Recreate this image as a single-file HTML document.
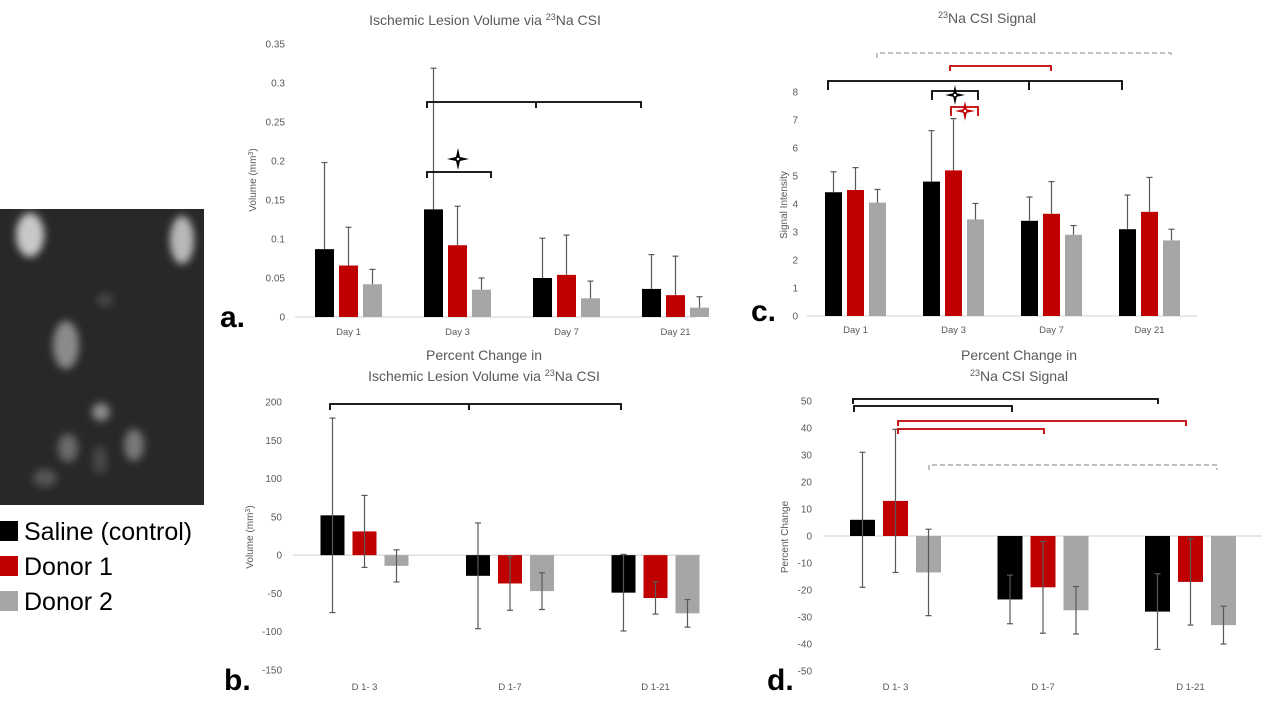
<!DOCTYPE html>
<html><head><meta charset="utf-8"><style>
html,body{margin:0;padding:0;background:#fff;}
svg{display:block;font-family:"Liberation Sans",sans-serif;}
</style></head><body>
<svg id="s" width="1278" height="714" viewBox="0 0 1278 714">
<defs><filter id="bl" x="-50%" y="-50%" width="200%" height="200%"><feGaussianBlur stdDeviation="4"/></filter>
<clipPath id="imgclip"><rect x="0" y="209" width="204" height="296"/></clipPath></defs>
<g clip-path="url(#imgclip)">
<rect x="0" y="209" width="204" height="296" fill="#282828"/>
<g filter="url(#bl)">
<ellipse cx="30" cy="235" rx="14" ry="22" fill="#c8c8c8"/>
<ellipse cx="182" cy="240" rx="12" ry="24" fill="#b8b8b8"/>
<ellipse cx="66" cy="345" rx="13" ry="24" fill="#8a8a8a"/>
<ellipse cx="101" cy="412" rx="9" ry="9" fill="#8a8a8a"/>
<ellipse cx="68" cy="448" rx="10" ry="14" fill="#6a6a6a"/>
<ellipse cx="134" cy="445" rx="10" ry="16" fill="#777"/>
<ellipse cx="45" cy="478" rx="12" ry="9" fill="#555"/>
<ellipse cx="105" cy="300" rx="8" ry="6" fill="#4a4a4a"/>
<ellipse cx="100" cy="460" rx="7" ry="14" fill="#484848"/>
</g>
</g>
<g>
<rect x="0" y="521" width="18" height="20" fill="#000"/>
<text x="24" y="540" font-size="25" fill="#000">Saline (control)</text>
<rect x="0" y="556" width="18" height="20" fill="#c00000"/>
<text x="24" y="575" font-size="25" fill="#000">Donor 1</text>
<rect x="0" y="591" width="18" height="20" fill="#a6a6a6"/>
<text x="24" y="610" font-size="25" fill="#000">Donor 2</text>
</g>
<g font-weight="bold" font-size="30" fill="#000">
<text x="220" y="327">a.</text>
<text x="224" y="690">b.</text>
<text x="751" y="321">c.</text>
<text x="767" y="690">d.</text>
</g>
</svg>
<script>
// ---- data ----
const catsA = ["Day 1","Day 3","Day 7","Day 21"];
const salineA = [0.087,0.138,0.050,0.036];
const donor1A = [0.066,0.092,0.054,0.028];
const donor2A = [0.042,0.035,0.024,0.012];
const salineAErr = [0.111,0.181,0.051,0.044];
const donor1AErr = [0.049,0.050,0.051,0.050];
const donor2AErr = [0.019,0.015,0.022,0.014];
const ticksA = ["0","0.05","0.1","0.15","0.2","0.25","0.3","0.35"];

const catsC = ["Day 1","Day 3","Day 7","Day 21"];
const salineC = [4.42,4.80,3.40,3.10];
const donor1C = [4.50,5.20,3.65,3.72];
const donor2C = [4.05,3.45,2.90,2.70];
const salineCErr = [0.73,1.82,0.85,1.22];
const donor1CErr = [0.80,1.85,1.15,1.23];
const donor2CErr = [0.47,0.57,0.33,0.40];
const ticksC = ["0","1","2","3","4","5","6","7","8"];

const catsB = ["D 1- 3","D 1-7","D 1-21"];
const salineB = [52,-27,-49];
const donor1B = [31,-37,-56];
const donor2B = [-14,-47,-76];
const salineBErr = [127,69,50];
const donor1BErr = [47,35,21];
const donor2BErr = [21,24,18];
const ticksB = ["-150","-100","-50","0","50","100","150","200"];

const catsD = ["D 1- 3","D 1-7","D 1-21"];
const salineD = [6,-23.5,-28];
const donor1D = [13,-19,-17];
const donor2D = [-13.5,-27.5,-33];
const salineDErr = [25,9,14];
const donor1DErr = [26.5,17,16];
const donor2DErr = [16,8.8,7];
const ticksD = ["-50","-40","-30","-20","-10","0","10","20","30","40","50"];

const NS="http://www.w3.org/2000/svg";
const svg=document.getElementById('s');
function el(tag,attrs,parent){const e=document.createElementNS(NS,tag);for(const k in attrs)e.setAttribute(k,attrs[k]);(parent||svg).appendChild(e);return e;}

function chart(cfg){
  const g=el('g',{});
  
  
  const y=v=>cfg.y0-(v-cfg.vmin)*(cfg.y0-cfg.y1)/(cfg.vmax-cfg.vmin);
  const x=i=>cfg.x0+i*cfg.step;
  cfg.ticks.forEach(t=>{
    const tx=el('text',{x:cfg.tickX,y:y(parseFloat(t))+3.5,'font-size':10,fill:'#595959','text-anchor':'end'},g);
    tx.textContent=t;
    
    
  });
  const ax=el('line',{x1:cfg.axL,x2:cfg.axR,y1:y(0),y2:y(0),stroke:'#d9d9d9','stroke-width':1.2},g);
  
  
  const series=[[cfg.s0,cfg.e0,'#000000'],[cfg.s1,cfg.e1,'#c00000'],[cfg.s2,cfg.e2,'#a6a6a6']];
  const names=['saline','donor1','donor2'];
  cfg.cats.forEach((c,i)=>{
    series.forEach((s,j)=>{
      const cx=x(i)+(j-1)*cfg.off;
      const v=s[0][i], yv=y(v), yz=y(0);
      const r=el('rect',{x:cx-cfg.bw/2,y:Math.min(yv,yz),width:cfg.bw,height:Math.abs(yz-yv),fill:s[2]},g);
      
      
      const e=s[1][i];
      const top=y(v+e), bot=cfg.sym?y(v-e):yv;
      const eg=el('g',{stroke:'#595959','stroke-width':1.2},g);
      
      
      el('line',{x1:cx,x2:cx,y1:top,y2:bot},eg);
      el('line',{x1:cx-3,x2:cx+3,y1:top,y2:top},eg);
      if(cfg.sym) el('line',{x1:cx-3,x2:cx+3,y1:bot,y2:bot},eg);
    });
    const lt=el('text',{x:x(i),y:cfg.catY,'font-size':9.5,fill:'#595959','text-anchor':'middle'},g);
    lt.textContent=c;
    
    
  });
  const yl=el('text',{x:0,y:0,'font-size':10,fill:'#595959','text-anchor':'middle',transform:`translate(${cfg.ylX},${cfg.ylY}) rotate(-90)`},g);
  yl.innerHTML=cfg.ylabel;
  
  
  cfg.title.forEach((t,k)=>{
    const tt=el('text',{x:cfg.tX,y:cfg.tY+k*21,'font-size':14,fill:'#595959','text-anchor':'middle'},g);
    tt.innerHTML=t;
    
    
  });
  return g;
}
function bracket(x1,x2,yy,drop,col,dash,mid,name){
  const p=el('path',{d:`M${x1},${yy+drop} V${yy} H${x2} V${yy+drop}`+(mid?` M${mid},${yy} V${yy+drop}`:''),fill:'none',stroke:col,'stroke-width':dash?1.5:1.8,'stroke-dasharray':dash?'5,3':'none'});
  
  
}
function star(cx,cy,r,col,name){
  const w=r*0.18;
  const p=el('path',{d:`M${cx},${cy-r} L${cx+w},${cy-w} L${cx+r},${cy} L${cx+w},${cy+w} L${cx},${cy+r} L${cx-w},${cy+w} L${cx-r},${cy} L${cx-w},${cy-w} Z`,fill:col});
  
  
  el('circle',{cx:cx,cy:cy,r:1.3,fill:'#fff'});
}
const sup='<tspan baseline-shift="super" font-size="9">23</tspan>';
chart({name:'chart-a-lesion-volume',cats:catsA,s0:salineA,s1:donor1A,s2:donor2A,e0:salineAErr,e1:donor1AErr,e2:donor2AErr,ticks:ticksA,
 vmin:0,vmax:0.35,y0:317,y1:44,x0:348.5,step:109,off:24,bw:19,sym:false,tickX:285,axL:295,axR:695,catY:335,
 ylabel:'Volume (mm<tspan baseline-shift="super" font-size="7">3</tspan>)',ylX:256,ylY:180,title:['Ischemic Lesion Volume via '+sup+'Na CSI'],tX:485,tY:25});
chart({name:'chart-c-csi-signal',cats:catsC,s0:salineC,s1:donor1C,s2:donor2C,e0:salineCErr,e1:donor1CErr,e2:donor2CErr,ticks:ticksC,
 vmin:0,vmax:8,y0:316,y1:92,x0:855.5,step:98,off:22,bw:17,sym:false,tickX:798,axL:807,axR:1197,catY:333,
 ylabel:'Signal Intensity',ylX:787,ylY:205,title:[sup+'Na CSI Signal'],tX:987,tY:23});
chart({name:'chart-b-percent-change-volume',cats:catsB,s0:salineB,s1:donor1B,s2:donor2B,e0:salineBErr,e1:donor1BErr,e2:donor2BErr,ticks:ticksB,
 vmin:-150,vmax:200,y0:670,y1:402,x0:364.5,step:145.5,off:32,bw:24,sym:true,tickX:282,axL:293,axR:700,catY:690,
 ylabel:'Volume (mm<tspan baseline-shift="super" font-size="7">3</tspan>)',ylX:253,ylY:537,title:['Percent Change in','Ischemic Lesion Volume via '+sup+'Na CSI'],tX:484,tY:360});
chart({name:'chart-d-percent-change-signal',cats:catsD,s0:salineD,s1:donor1D,s2:donor2D,e0:salineDErr,e1:donor1DErr,e2:donor2DErr,ticks:ticksD,
 vmin:-50,vmax:50,y0:671,y1:401,x0:895.5,step:147.5,off:33,bw:25,sym:true,tickX:812,axL:823,axR:1262,catY:690,
 ylabel:'Percent Change',ylX:788,ylY:537,title:['Percent Change in',sup+'Na CSI Signal'],tX:1019,tY:360});
bracket(427,641,102,6,'#000',false,536,'sig-bracket-a-day3');
bracket(427,491,172,6,'#000',false,0,'sig-bracket-a-small');
star(458,159,11,'#000','sig-star-a');
bracket(877,1171,53,5,'#aaaaaa',true,0,'sig-bracket-c-gray');
bracket(950,1051,66,5,'#c00000',false,0,'sig-bracket-c-red');
bracket(828,1122,81,9,'#000',false,1029,'sig-bracket-c-black');
bracket(932,978,91,9,'#000',false,0,'sig-bracket-c-small-black');
star(955,95,10,'#000','sig-star-c-black');
bracket(951,978,107,9,'#c00000',false,0,'sig-bracket-c-small-red');
star(965,111,10,'#c00000','sig-star-c-red');
bracket(330,621,404,6,'#000',false,469,'sig-bracket-b');
bracket(853,1158,399,5,'#000',false,0,'sig-bracket-d-black1');
bracket(854,1012,406,6,'#000',false,0,'sig-bracket-d-black2');
bracket(898,1186,421,5,'#c00000',false,0,'sig-bracket-d-red1');
bracket(898,1044,429,5,'#c00000',false,0,'sig-bracket-d-red2');
bracket(929,1217,465,5,'#aaaaaa',true,0,'sig-bracket-d-gray');
</script>
</body></html>
